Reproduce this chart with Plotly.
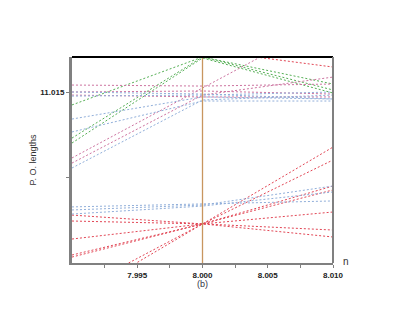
import plotly.graph_objects as go

# n values at which each branch was sampled
n_vals = [7.990, 8.000, 8.010]

# lower fan of red branches crossing at n = 8.000
red_1 = [11.00271, 11.00724, 11.01176]
red_2 = [11.00318, 11.00724, 11.01100]
red_3 = [11.00529, 11.00724, 11.00924]
red_4 = [11.00541, 11.00724, 11.00947]
red_5 = [11.00635, 11.00724, 11.00794]
red_6 = [11.00741, 11.00724, 11.00688]
red_7 = [11.00776, 11.00724, 11.00647]

# lower blue branches
blue_low_1 = [11.00824, 11.00841, 11.00859]
blue_low_2 = [11.00782, 11.00829, 11.00912]
blue_low_3 = [11.00806, 11.00835, 11.00947]

# upper green branches (peak at n = 8.000)
green_1 = [11.01424, 11.01706, 11.01547]
green_2 = [11.01229, 11.01706, 11.01512]
green_3 = [11.01200, 11.01700, 11.01494]

# upper pink / red branches
pink_1 = [11.01112, 11.01524, 11.01935]
pink_2 = [11.01082, 11.01482, 11.01588]
pink_3 = [11.01541, 11.01535, 11.01547]
pink_4 = [11.01500, 11.01506, 11.01488]
pink_5 = [11.01482, 11.01471, 11.01471]
red_top_n = [8.0035, 8.010]
red_top = [11.01712, 11.01647]

# upper blue branches
blue_up_1 = [11.01341, 11.01471, 11.01459]
blue_up_2 = [11.01053, 11.01453, 11.01482]
blue_up_3 = [11.01265, 11.01447, 11.01447]
blue_up_4 = [11.01500, 11.01488, 11.01459]
blue_up_5 = [11.01476, 11.01482, 11.01500]

crossing_n = 8.000
x_ticks = [7.9925, 7.995, 7.9975, 8.000, 8.0025, 8.005, 8.0075, 8.010]
x_labels = ["", "7.995", "", "8.000", "", "8.005", "", "8.010"]
y_ticks = [11.010, 11.015]
y_labels = ["", "11.015"]

RED = "rgb(226,70,85)"
PINK = "rgb(205,115,160)"
GREEN = "rgb(85,175,85)"
BLUE = "rgb(145,175,218)"

series = [
    (n_vals, red_1, RED), (n_vals, red_2, RED), (n_vals, red_3, RED),
    (n_vals, red_4, RED), (n_vals, red_5, RED), (n_vals, red_6, RED),
    (n_vals, red_7, RED),
    (n_vals, blue_low_1, BLUE), (n_vals, blue_low_2, BLUE), (n_vals, blue_low_3, BLUE),
    (n_vals, green_1, GREEN), (n_vals, green_2, GREEN), (n_vals, green_3, GREEN),
    (n_vals, pink_1, PINK), (n_vals, pink_2, PINK), (n_vals, pink_3, PINK),
    (n_vals, pink_4, PINK), (n_vals, pink_5, PINK), (red_top_n, red_top, RED),
    (n_vals, blue_up_1, BLUE), (n_vals, blue_up_2, BLUE), (n_vals, blue_up_3, BLUE),
    (n_vals, blue_up_4, BLUE), (n_vals, blue_up_5, BLUE),
]

fig = go.Figure()
for xs, ys, col in series:
    fig.add_trace(go.Scatter(
        x=xs, y=ys, mode="lines",
        line=dict(color=col, width=1, dash="2px,2px"),
        showlegend=False, hoverinfo="skip",
    ))

# vertical marker at n = 8.000
fig.add_shape(type="line", xref="x", yref="paper", x0=crossing_n, x1=crossing_n,
              y0=0, y1=1, line=dict(color="#c8965f", width=1.3))
# top black border, right grey border
fig.add_shape(type="line", xref="paper", yref="paper", x0=0, x1=1, y0=1, y1=1,
              line=dict(color="black", width=2))
fig.add_shape(type="line", xref="paper", yref="paper", x0=1, x1=1, y0=0, y1=1,
              line=dict(color="#808080", width=2))

tick_font = dict(family="Arial, Liberation Sans", size=8, color="#222", weight="bold")

# page body has an 8px margin, so the plot box is shifted back by that much
fig.update_layout(
    width=415, height=321,
    margin=dict(l=64, r=90, t=49, b=66),
    paper_bgcolor="white", plot_bgcolor="white",
    xaxis=dict(
        range=[7.990, 8.010], tickvals=x_ticks, ticktext=x_labels,
        ticks="outside", ticklen=3, tickcolor="#808080", tickfont=tick_font,
        showline=True, linecolor="#808080", linewidth=2,
        showgrid=False, zeroline=False,
    ),
    yaxis=dict(
        range=[11.00494, 11.01706], tickvals=y_ticks, ticktext=y_labels,
        ticks="outside", ticklen=3, tickcolor="#808080", tickfont=tick_font,
        showline=True, linecolor="#808080", linewidth=3,
        showgrid=False, zeroline=False,
        title=dict(text="P. O. lengths", font=dict(family="Arial, Liberation Sans", size=9, color="#333"), standoff=3),
    ),
    annotations=[
        dict(text="n", xref="paper", yref="paper", x=1.03, y=-0.03, xanchor="left", yanchor="bottom",
             showarrow=False, font=dict(family="Arial, Liberation Sans", size=10, color="#333")),
        dict(text="(b)", xref="paper", yref="paper", x=0.5, y=-0.07, xanchor="center", yanchor="top",
             showarrow=False, font=dict(family="Arial, Liberation Sans", size=9, color="#334")),
    ],
)

fig.write_html("out.html")
